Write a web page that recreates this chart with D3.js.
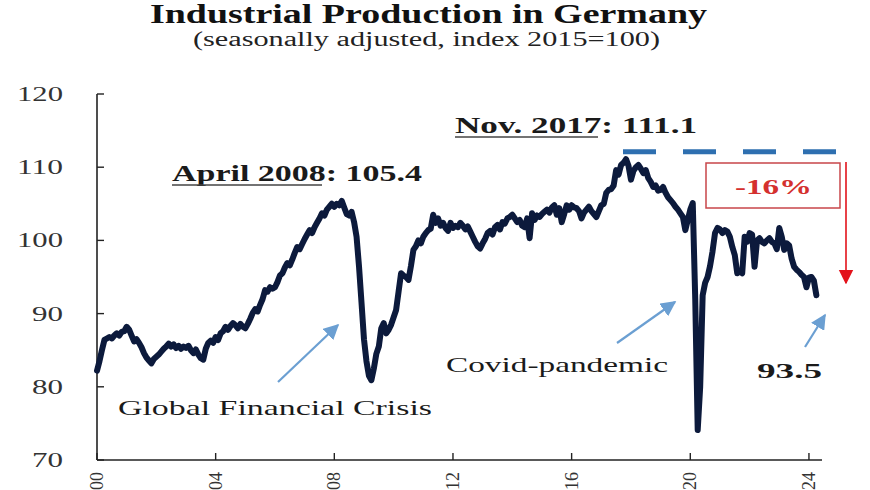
<!DOCTYPE html>
<html><head><meta charset="utf-8">
<script src="https://cdn.jsdelivr.net/npm/d3@7"></script>
<style>
html,body{margin:0;padding:0;background:#fff;}
svg{display:block;font-family:"Liberation Serif","Times New Roman",serif;}
</style></head>
<body>
<svg id="chart" width="870" height="490"></svg>
<script>
// ---- data ----
const startYear = 2000;
const indexValues = [
// 2000
82.2, 83.5, 85.0, 86.4, 86.6, 86.8, 86.6, 87.0, 87.3, 87.0, 87.5, 87.6,
// 2001
88.2, 87.8, 87.0, 86.2, 86.5, 86.0, 85.4, 84.6, 84.0, 83.6, 83.2, 83.8,
// 2002
84.1, 84.4, 84.8, 85.2, 85.5, 85.9, 85.5, 85.8, 85.3, 85.6, 85.2, 85.5,
// 2003
85.3, 85.6, 85.0, 84.6, 85.1, 84.4, 83.9, 83.7, 85.2, 86.0, 86.3, 86.0,
// 2004
86.8, 86.4, 87.3, 87.6, 88.2, 87.8, 88.3, 88.7, 88.4, 88.0, 88.6, 88.2,
// 2005
88.0, 88.6, 89.3, 90.1, 90.6, 90.3, 91.2, 92.0, 93.2, 93.0, 93.6, 93.4,
// 2006
93.6, 94.3, 95.2, 95.5, 96.3, 96.9, 96.6, 97.4, 98.3, 99.1, 98.8, 99.5,
// 2007
100.2, 100.8, 101.4, 101.0, 101.8, 102.4, 103.0, 103.7, 103.4, 104.2, 104.6, 105.0,
// 2008
104.6, 105.0, 104.8, 105.4, 104.5, 103.6, 103.4, 103.9, 102.5, 100.5, 96.4, 91.5,
// 2009
86.5, 83.5, 81.5, 80.9, 82.5, 84.5, 85.5, 88.0, 88.7, 87.3, 87.8, 88.5,
// 2010
89.5, 90.5, 93.0, 95.5, 95.2, 95.0, 94.6, 96.5, 98.7, 99.2, 100.0, 99.6,
// 2011
100.5, 101.0, 101.4, 101.6, 103.5, 102.4, 103.0, 102.0, 102.4, 101.7, 101.3, 102.4,
// 2012
101.7, 102.0, 101.8, 102.4, 102.0, 101.5, 101.9, 101.2, 100.5, 99.8, 99.2, 98.9,
// 2013
99.6, 100.2, 101.0, 101.3, 100.8, 101.8, 102.1, 101.5, 102.5, 102.3, 103.0, 103.2,
// 2014
103.5, 103.0, 102.5, 102.8, 102.0, 101.8, 103.0, 100.3, 103.7, 102.8, 103.4, 103.2,
// 2015
103.6, 103.9, 104.2, 103.8, 104.5, 104.8, 103.5, 104.4, 102.5, 103.6, 104.8, 104.2,
// 2016
104.8, 104.5, 104.4, 104.0, 103.0, 103.8, 104.2, 104.6, 104.0, 103.6, 103.2, 104.0,
// 2017
104.8, 105.0, 106.5, 106.9, 107.0, 107.5, 109.6, 109.0, 110.3, 110.6, 111.1, 110.2,
// 2018
108.3, 109.5, 110.0, 110.3, 109.8, 109.2, 109.6, 108.5, 108.0, 107.3, 107.5, 106.8,
// 2019
106.9, 107.3, 106.5, 105.9, 105.5, 105.1, 104.6, 104.2, 103.7, 103.2, 101.4, 102.8,
// 2020
104.2, 105.1, 92.0, 74.1, 80.0, 92.5, 94.2, 95.0, 96.5, 98.5, 101.0, 101.7,
// 2021
101.5, 101.0, 101.4, 101.2, 100.5, 99.1, 98.0, 95.5, 95.8, 95.5, 100.5, 99.8,
// 2022
101.0, 100.8, 96.4, 100.0, 100.3, 99.8, 99.6, 100.0, 100.3, 99.8, 99.6, 98.8,
// 2023
101.7, 100.5, 98.7, 99.6, 99.3, 97.5, 96.4, 96.0, 95.7, 95.3, 95.0, 93.6,
// 2024
94.9, 95.0, 94.5, 92.5
];
const yTicks = [70, 80, 90, 100, 110, 120];
const xTickYears = [2000, 2004, 2008, 2012, 2016, 2020, 2024];
const xTickLabels = ["00", "04", "08", "12", "16", "20", "24"];
const peakLevel = 112.1;   // dashed reference line (drawn just above Nov. 2017 peak)

// ---- layout ----
const svg = d3.select("#chart");
const x = d3.scaleLinear().domain([2000, 2024.44]).range([97, 822]);
const y = d3.scaleLinear().domain([70, 120]).range([460, 94]);
const data = indexValues.map((v, i) => ({t: startYear + i / 12, v}));

// title
svg.append("text").attr("x", 150).attr("y", 23)
  .attr("font-size", 27).attr("font-weight", "bold").attr("fill", "#111")
  .attr("textLength", 557).attr("lengthAdjust", "spacingAndGlyphs")
  .text("Industrial Production in Germany");
svg.append("text").attr("x", 193).attr("y", 46)
  .attr("font-size", 20).attr("fill", "#222")
  .attr("textLength", 467).attr("lengthAdjust", "spacingAndGlyphs")
  .text("(seasonally adjusted, index 2015=100)");

// axes
const axisColor = "#222";
svg.append("line").attr("x1", x(2000)).attr("x2", 822).attr("y1", y(70)).attr("y2", y(70))
  .attr("stroke", axisColor).attr("stroke-width", 1.6);
svg.append("line").attr("x1", x(2000)).attr("x2", x(2000)).attr("y1", y(70)).attr("y2", y(120))
  .attr("stroke", axisColor).attr("stroke-width", 1.6);
yTicks.forEach(t => {
  svg.append("line").attr("x1", x(2000)).attr("x2", x(2000) + 7).attr("y1", y(t)).attr("y2", y(t))
    .attr("stroke", axisColor).attr("stroke-width", 1.4);
  svg.append("text").attr("x", 63).attr("y", y(t) + 7)
    .attr("text-anchor", "end").attr("font-size", 20).attr("fill", "#333")
    .attr("textLength", t >= 100 ? 46 : 31).attr("lengthAdjust", "spacingAndGlyphs")
    .text(t);
});
xTickYears.forEach((yr, i) => {
  svg.append("line").attr("x1", x(yr)).attr("x2", x(yr)).attr("y1", y(70)).attr("y2", y(70) - 7)
    .attr("stroke", axisColor).attr("stroke-width", 1.4);
  svg.append("text")
    .attr("transform", `translate(${x(yr) + 6},${y(70) + 12}) rotate(-90)`)
    .attr("text-anchor", "end").attr("font-size", 18).attr("fill", "#333")
    .text(xTickLabels[i]);
});

// dashed peak line
svg.append("line").attr("x1", 623).attr("x2", 837).attr("y1", y(peakLevel)).attr("y2", y(peakLevel))
  .attr("stroke", "#2e6fb0").attr("stroke-width", 5).attr("stroke-dasharray", "33,27");

// main series
svg.append("path").datum(data)
  .attr("fill", "none").attr("stroke", "#0c1a3c").attr("stroke-width", 6)
  .attr("stroke-linejoin", "round").attr("stroke-linecap", "round")
  .attr("d", d3.line().x(d => x(d.t)).y(d => y(d.v)));

// markers
const defs = svg.append("defs");
defs.append("marker").attr("id", "blueHead").attr("viewBox", "0 0 10 10")
  .attr("refX", 9).attr("refY", 5).attr("markerWidth", 7).attr("markerHeight", 7)
  .attr("markerUnits", "strokeWidth").attr("orient", "auto")
  .append("path").attr("d", "M0,0 L10,5 L0,10 z").attr("fill", "#6b9fd2");
defs.append("marker").attr("id", "redHead").attr("viewBox", "0 0 10 10")
  .attr("refX", 9).attr("refY", 5).attr("markerWidth", 9).attr("markerHeight", 14)
  .attr("markerUnits", "strokeWidth").attr("orient", "auto")
  .append("path").attr("d", "M0,0 L10,5 L0,10 z").attr("fill", "#e3121b");

// blue arrows
const blueArrows = [[278, 382, 338, 325], [617, 343, 675, 302], [805, 347, 825, 315]];
blueArrows.forEach(a => {
  svg.append("line").attr("x1", a[0]).attr("y1", a[1]).attr("x2", a[2]).attr("y2", a[3])
    .attr("stroke", "#6b9fd2").attr("stroke-width", 2.2).attr("marker-end", "url(#blueHead)");
});

// red box and arrow
svg.append("rect").attr("x", 706).attr("y", 163).attr("width", 134).attr("height", 45)
  .attr("fill", "none").attr("stroke", "#c8464a").attr("stroke-width", 1.5);
svg.append("text").attr("x", 735).attr("y", 194)
  .attr("font-size", 22).attr("font-weight", "bold").attr("fill", "#d4302e")
  .attr("textLength", 77).attr("lengthAdjust", "spacingAndGlyphs").text("-16%");
svg.append("line").attr("x1", 846).attr("x2", 846).attr("y1", 162).attr("y2", 283)
  .attr("stroke", "#e3121b").attr("stroke-width", 1.6).attr("marker-end", "url(#redHead)");

// annotations
const annFill = "#1a1a1a";
svg.append("text").attr("x", 172).attr("y", 181)
  .attr("font-size", 23).attr("font-weight", "bold").attr("fill", annFill)
  .attr("textLength", 250).attr("lengthAdjust", "spacingAndGlyphs").text("April 2008: 105.4");
svg.append("line").attr("x1", 172).attr("x2", 322).attr("y1", 185).attr("y2", 185)
  .attr("stroke", "#444").attr("stroke-width", 1.6);

svg.append("text").attr("x", 455).attr("y", 133)
  .attr("font-size", 23).attr("font-weight", "bold").attr("fill", annFill)
  .attr("textLength", 242).attr("lengthAdjust", "spacingAndGlyphs").text("Nov. 2017: 111.1");
svg.append("line").attr("x1", 455).attr("x2", 598).attr("y1", 137).attr("y2", 137)
  .attr("stroke", "#444").attr("stroke-width", 1.6);

svg.append("text").attr("x", 118).attr("y", 415)
  .attr("font-size", 22).attr("fill", annFill)
  .attr("textLength", 314).attr("lengthAdjust", "spacingAndGlyphs").text("Global Financial Crisis");
svg.append("text").attr("x", 446).attr("y", 372)
  .attr("font-size", 22).attr("fill", annFill)
  .attr("textLength", 222).attr("lengthAdjust", "spacingAndGlyphs").text("Covid-pandemic");
svg.append("text").attr("x", 757).attr("y", 378)
  .attr("font-size", 22).attr("font-weight", "bold").attr("fill", annFill)
  .attr("textLength", 65).attr("lengthAdjust", "spacingAndGlyphs").text("93.5");
</script>
</body></html>
